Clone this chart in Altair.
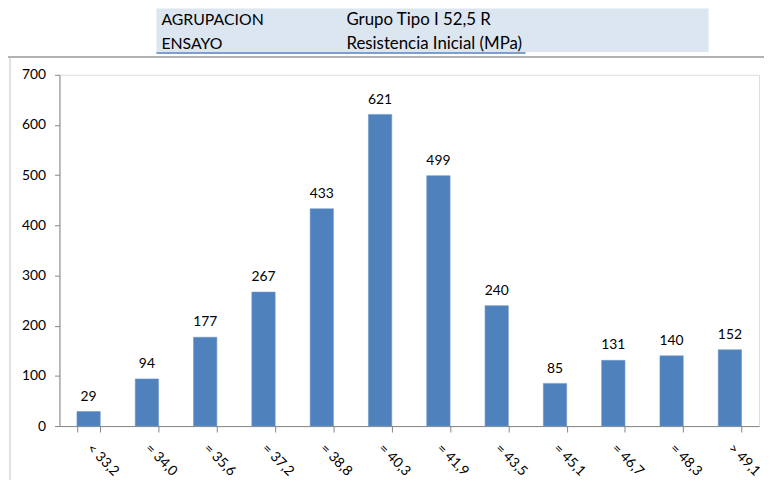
import altair as alt
import pandas as pd

categories = ["< 33,2", "= 34,0", "= 35,6", "= 37,2", "= 38,8", "= 40,3",
              "= 41,9", "= 43,5", "= 45,1", "= 46,7", "= 48,3", "> 49,1"]
values = [29, 94, 177, 267, 433, 621, 499, 240, 85, 131, 140, 152]
header_keys = ["AGRUPACION", "ENSAYO"]
header_vals = ["Grupo Tipo I 52,5 R", "Resistencia Inicial (MPa)"]

df = pd.DataFrame({"cat": categories, "val": values})
one = pd.DataFrame({"a": [0]})

FONT = "Lato"
AX = "#868686"

xenc = alt.X("cat:N", sort=categories, title=None,
             scale=alt.Scale(paddingInner=0.6, paddingOuter=0.3),
             axis=alt.Axis(labelAngle=45, labelAlign="left", labelBaseline="middle",
                           tickBand="extent", tickSize=6, labelPadding=14,
                           labelFontSize=14, labelFont=FONT, labelColor="#000000",
                           domainColor=AX, tickColor=AX, grid=False))
yenc = alt.Y("val:Q", title=None,
             scale=alt.Scale(domain=[0, 700], nice=False),
             axis=alt.Axis(values=list(range(0, 701, 100)), tickSize=5, labelPadding=9,
                           labelFontSize=14, labelFont=FONT, labelColor="#000000",
                           domainColor=AX, tickColor=AX, grid=False))

bars = alt.Chart(df).mark_bar(color="#4f81bd", stroke="#6f97c8", strokeWidth=0.6).encode(x=xenc, y=yenc)
labels = alt.Chart(df).mark_text(dy=-15, fontSize=14, font=FONT, color="#000000").encode(
    x=alt.X("cat:N", sort=categories), y="val:Q", text="val:Q")

frame_top = alt.Chart(one).mark_rule(color="#9a9a9a", strokeWidth=1.5).encode(
    x=alt.value(-52), x2=alt.value(720), y=alt.value(-18))
frame_left = alt.Chart(one).mark_rule(color="#c4c4c4", strokeWidth=1).encode(
    x=alt.value(-50), y=alt.value(-18), y2=alt.value(430))
band = alt.Chart(one).mark_rect(fill="#dce6f1").encode(
    x=alt.value(98), x2=alt.value(656), y=alt.value(-67), y2=alt.value(-23))
uline = alt.Chart(one).mark_rule(color="#7f9fcb", strokeWidth=2).encode(
    x=alt.value(98), x2=alt.value(471), y=alt.value(-22))

hdr = []
for i, (k, v) in enumerate(zip(header_keys, header_vals)):
    yy = -55 + 24 * i
    hdr.append(alt.Chart(one).mark_text(align="left", baseline="middle", fontSize=16,
                                        font=FONT, color="#000000").encode(
        x=alt.value(103), y=alt.value(yy), text=alt.value(k)))
    hdr.append(alt.Chart(one).mark_text(align="left", baseline="middle", fontSize=17,
                                        font=FONT, color="#000000").encode(
        x=alt.value(290), y=alt.value(yy), text=alt.value(v)))

chart = alt.layer(frame_top, frame_left, band, uline, *hdr, bars, labels).properties(
    width=707, height=355,
    autosize=alt.AutoSizeParams(type="none"),
    padding={"left": 52, "top": 65, "right": 5, "bottom": 52},
).configure_view(stroke=None).configure(background="white")

chart.save("out.html", embed_options={"renderer": "svg", "actions": False})
